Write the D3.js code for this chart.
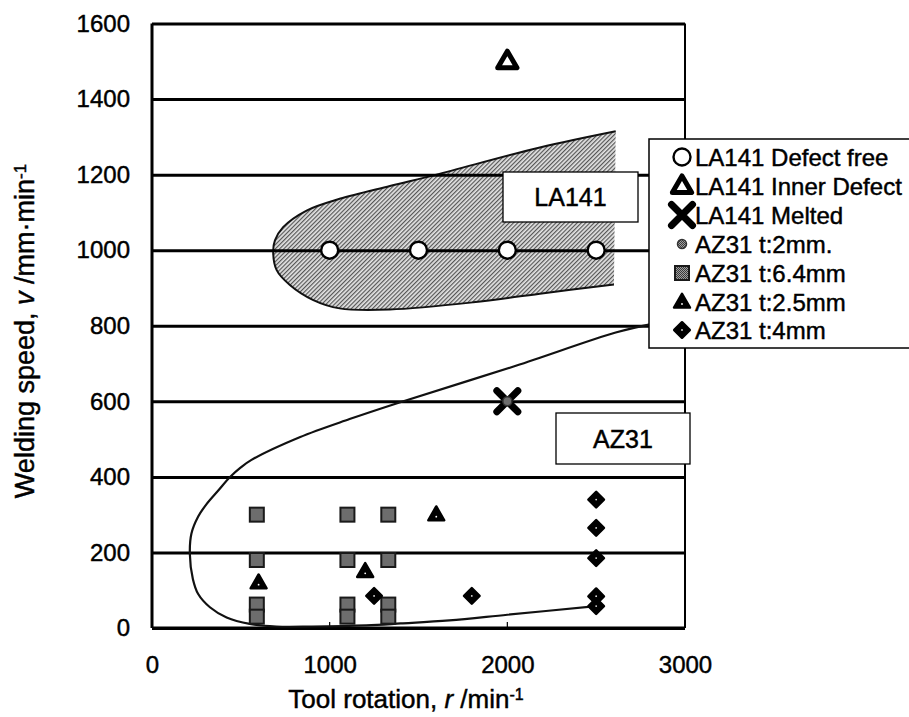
<!DOCTYPE html>
<html>
<head>
<meta charset="utf-8">
<script src="https://cdn.jsdelivr.net/npm/d3@7"></script>
<style>
  body { margin: 0; background: #fff; }
  svg text { font-family: "Liberation Sans", Arial, sans-serif; fill: #000; stroke: #000; stroke-width: 0.45px; }
</style>
</head>
<body>
<div id="chart"></div>
<script>
// ---- data ----
var xTicks = [0, 1000, 2000, 3000];
var yTicks = [0, 200, 400, 600, 800, 1000, 1200, 1400, 1600];

// LA141 points
var freeR = [1000, 1500, 2000, 2500];
var freeV = [1000, 1000, 1000, 1000];
var innerR = [2000];
var innerV = [1500];
var meltR = [2000];
var meltV = [600];

// AZ31 points
var t2R = [2000];
var t2V = [600];
var t64R = [590, 590, 590, 590, 1100, 1100, 1100, 1100, 1330, 1330, 1330, 1330];
var t64V = [300, 180, 62, 30, 300, 180, 62, 30, 300, 180, 62, 30];
var t25R = [600, 1200, 1600];
var t25V = [120, 150, 300];
var t4R = [1250, 1800, 2500, 2500, 2500, 2500, 2500];
var t4V = [85, 85, 340, 265, 185, 84, 58];

// LA141 sound-weld region (upper edge right->left, lower edge left->right)
var laUpR = [2610, 2183, 1600, 1339, 1056, 870, 738, 692, 682];
var laUpV = [1315, 1272, 1200, 1170, 1136, 1105, 1061, 1026, 996];
var laLoR = [682, 701, 776, 908, 1056, 1338, 1808, 2183, 2600];
var laLoV = [996, 948, 908, 868, 846, 843, 862, 885, 909];

// AZ31 boundary curve
var azR = [2500, 2000, 1674, 1400, 1206, 900, 700, 550, 420, 326, 260, 230, 213, 222, 260, 307, 373, 438, 500, 560, 831, 1112, 1393, 2048, 2610, 2816];
var azV = [58, 35, 20, 12, 7, 4, 4, 11, 28, 55, 90, 130, 196, 250, 295, 328, 364, 399, 425, 445, 505, 553, 597, 694, 782, 805];

var legendLabels = ["LA141 Defect free", "LA141 Inner Defect", "LA141 Melted",
  "AZ31 t:2mm.", "AZ31 t:6.4mm", "AZ31 t:2.5mm", "AZ31 t:4mm"];

// ---- layout ----
var W = 909, H = 717;
var margin = { top: 23.5, right: 224, bottom: 89, left: 152 },
  width = W - margin.left - margin.right,
  height = H - margin.top - margin.bottom;

var x = d3.scaleLinear().domain([0, 3000]).range([0, width]);
var y = d3.scaleLinear().domain([0, 1600]).range([height, 0]);

function zip(a, b) { return a.map(function (d, i) { return [d, b[i]]; }); }

var root = d3.select("#chart").append("svg").attr("width", W).attr("height", H);

// patterns: diagonal hatch for the region, fine checker for grey markers
var defs = root.append("defs");
var hatch = defs.append("pattern").attr("id", "hatch")
  .attr("patternUnits", "userSpaceOnUse").attr("width", 3).attr("height", 3)
  .attr("patternTransform", "rotate(45)");
hatch.append("rect").attr("width", 3).attr("height", 3).attr("fill", "#e4e4e4");
hatch.append("rect").attr("width", 1.2).attr("height", 3).attr("fill", "#555");

var checker = defs.append("pattern").attr("id", "checker")
  .attr("patternUnits", "userSpaceOnUse").attr("width", 2).attr("height", 2);
checker.append("rect").attr("width", 2).attr("height", 2).attr("fill", "#a0a0a0");
checker.append("rect").attr("width", 1).attr("height", 1).attr("fill", "#3a3a3a");
checker.append("rect").attr("x", 1).attr("y", 1).attr("width", 1).attr("height", 1).attr("fill", "#3a3a3a");

var svg = root.append("g")
  .attr("transform", "translate(" + margin.left + "," + margin.top + ")");

// LA141 region fill + outline
var laPts = zip(laUpR, laUpV).concat(zip(laLoR, laLoV).slice(1));
var line = d3.line()
  .x(function (d) { return x(d[0]); })
  .y(function (d) { return y(d[1]); })
  .curve(d3.curveCatmullRom);

svg.append("path")
  .attr("d", line(laPts) + "Z")
  .attr("fill", "url(#hatch)")
  .attr("stroke", "none");
svg.append("path")
  .attr("d", line(laPts))
  .attr("fill", "none")
  .attr("stroke", "#111")
  .attr("stroke-width", 2);

// horizontal grid + y labels
var yAxis = svg.append("g")
  .call(d3.axisLeft(y).tickValues(yTicks).tickSize(-width).tickPadding(22).tickFormat(d3.format("d")));
yAxis.select(".domain").remove();
yAxis.selectAll(".tick line").attr("stroke", "#000").attr("stroke-width", 3);
yAxis.selectAll(".tick text").style("font-size", "24px");

// x labels
var xAxis = svg.append("g")
  .attr("transform", "translate(0," + height + ")")
  .call(d3.axisBottom(x).tickValues(xTicks).tickSize(0).tickPadding(28).tickFormat(d3.format("d")));
xAxis.select(".domain").remove();
xAxis.selectAll(".tick text").style("font-size", "24px");

// frame: left axis, bottom axis, right border
svg.append("line").attr("x1", 0).attr("x2", 0).attr("y1", 0).attr("y2", height)
  .attr("stroke", "#000").attr("stroke-width", 3);
svg.append("line").attr("x1", 0).attr("x2", width).attr("y1", height).attr("y2", height)
  .attr("stroke", "#000").attr("stroke-width", 3);
svg.append("line").attr("x1", width).attr("x2", width).attr("y1", 0).attr("y2", height)
  .attr("stroke", "#000").attr("stroke-width", 2);
// small inner ticks on bottom axis
svg.selectAll(".xtick").data([1000, 2000]).enter().append("line")
  .attr("x1", function (d) { return x(d); }).attr("x2", function (d) { return x(d); })
  .attr("y1", height).attr("y2", height - 6)
  .attr("stroke", "#000").attr("stroke-width", 1.2);

// AZ31 boundary
svg.append("path")
  .attr("d", line(zip(azR, azV)))
  .attr("fill", "none")
  .attr("stroke", "#111")
  .attr("stroke-width", 2.2);

// ---- marker drawers ----
function drawOpenCircle(g, cx, cy) {
  g.append("circle").attr("cx", cx).attr("cy", cy).attr("r", 8.5)
    .attr("fill", "#fff").attr("stroke", "#000").attr("stroke-width", 2.4);
}
function drawOpenTri(g, cx, cy) {
  g.append("path").attr("d", d3.symbol(d3.symbolTriangle, 160)())
    .attr("transform", "translate(" + cx + "," + (cy + 1) + ")")
    .attr("fill", "#fff").attr("stroke", "#000").attr("stroke-width", 5)
    .attr("stroke-linejoin", "round");
}
function drawX(g, cx, cy) {
  var s = 10.5;
  g.append("path")
    .attr("d", "M" + (cx - s) + "," + (cy - s) + "L" + (cx + s) + "," + (cy + s) +
      "M" + (cx - s) + "," + (cy + s) + "L" + (cx + s) + "," + (cy - s))
    .attr("stroke", "#000").attr("stroke-width", 7).attr("stroke-linecap", "round");
}
function drawDot(g, cx, cy) {
  g.append("circle").attr("cx", cx).attr("cy", cy).attr("r", 4.5)
    .attr("fill", "url(#checker)").attr("stroke", "#333").attr("stroke-width", 1.5);
}
function drawSquare(g, cx, cy) {
  g.append("rect").attr("x", cx - 7).attr("y", cy - 7).attr("width", 14).attr("height", 14)
    .attr("fill", "url(#checker)").attr("stroke", "#1a1a1a").attr("stroke-width", 2);
}
function drawTri(g, cx, cy) {
  g.append("path").attr("d", d3.symbol(d3.symbolTriangle, 110)())
    .attr("transform", "translate(" + cx + "," + (cy + 1) + ")")
    .attr("fill", "#000").attr("stroke", "#000").attr("stroke-width", 2.5).attr("stroke-linejoin", "round");
  g.append("circle").attr("cx", cx).attr("cy", cy + 2).attr("r", 0.9).attr("fill", "#fff");
}
function drawDiamond(g, cx, cy) {
  g.append("rect").attr("x", -5.5).attr("y", -5.5).attr("width", 11).attr("height", 11)
    .attr("transform", "translate(" + cx + "," + cy + ") rotate(45)")
    .attr("fill", "#000").attr("stroke", "#000").attr("stroke-width", 2.5).attr("stroke-linejoin", "round");
  g.append("circle").attr("cx", cx).attr("cy", cy).attr("r", 0.9).attr("fill", "#ddd");
}

var series = [
  { r: freeR, v: freeV, draw: drawOpenCircle },
  { r: innerR, v: innerV, draw: drawOpenTri },
  { r: meltR, v: meltV, draw: drawX },
  { r: t2R, v: t2V, draw: drawDot },
  { r: t64R, v: t64V, draw: drawSquare },
  { r: t25R, v: t25V, draw: drawTri },
  { r: t4R, v: t4V, draw: drawDiamond }
];

var pts = svg.append("g");
series.forEach(function (s) {
  s.r.forEach(function (r, i) { s.draw(pts, x(r), y(s.v[i])); });
});

// region labels in boxes
function boxLabel(txt, bx, by, bw, bh) {
  var g = root.append("g");
  g.append("rect").attr("x", bx).attr("y", by).attr("width", bw).attr("height", bh)
    .attr("fill", "#fff").attr("stroke", "#000").attr("stroke-width", 1.3);
  g.append("text").attr("x", bx + bw / 2).attr("y", by + bh / 2).attr("dy", "0.36em")
    .attr("text-anchor", "middle").style("font-size", "25px").text(txt);
}
boxLabel("LA141", 503, 172, 135, 50);
boxLabel("AZ31", 556, 413, 134, 51);

// legend
var leg = root.append("g");
leg.append("rect").attr("x", 649).attr("y", 139).attr("width", 280).attr("height", 209)
  .attr("fill", "#fff").attr("stroke", "#000").attr("stroke-width", 1.5);
var rowY = [157, 186, 215, 244, 273, 302, 330];
legendLabels.forEach(function (lab, i) {
  series[i].draw(leg, 682, rowY[i]);
  leg.append("text").attr("x", 695).attr("y", rowY[i]).attr("dy", "0.36em")
    .style("font-size", "24px").text(lab);
});

// axis titles
var xt = root.append("text").attr("x", 406).attr("y", 708)
  .attr("text-anchor", "middle").style("font-size", "26px");
xt.append("tspan").text("Tool rotation, ");
xt.append("tspan").style("font-style", "italic").text("r");
xt.append("tspan").text(" /min");
xt.append("tspan").attr("dy", "-0.5em").style("font-size", "16px").text("-1");

var yt = root.append("text")
  .attr("transform", "translate(34,331) rotate(-90)")
  .attr("text-anchor", "middle").style("font-size", "27px");
yt.append("tspan").text("Welding speed, ");
yt.append("tspan").style("font-style", "italic").text("v");
yt.append("tspan").text(" /mm\u00b7min");
yt.append("tspan").attr("dy", "-0.5em").style("font-size", "17px").text("-1");
</script>
</body>
</html>
